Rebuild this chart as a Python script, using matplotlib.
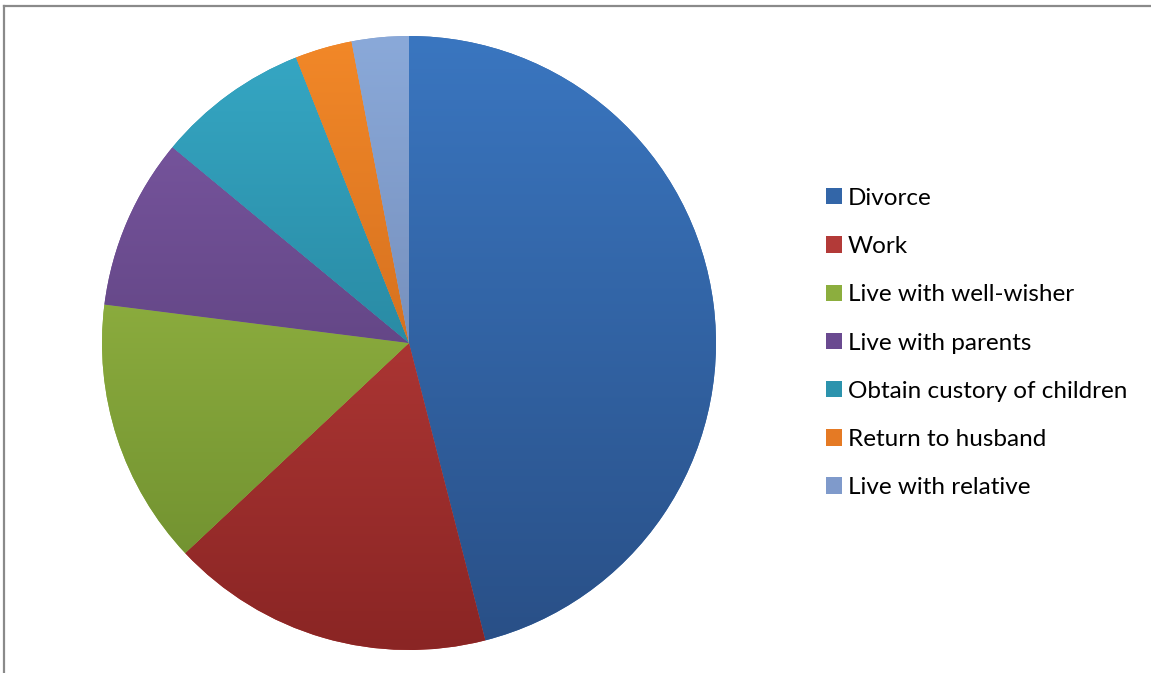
import numpy as np
import matplotlib.pyplot as plt
from matplotlib.colors import to_rgb, LinearSegmentedColormap
from matplotlib.patches import Patch
from matplotlib.lines import Line2D

# Share of responses (%)
labels = ['Divorce', 'Work', 'Live with well-wisher', 'Live with parents',
          'Obtain custory of children', 'Return to husband', 'Live with relative']
values = [46, 17, 14, 9, 8, 3, 3]

# top / bottom shade of each slice (vertical gradient)
top_colors = ['#3a76c0', '#cb4542', '#a4c54b', '#7e5aa6', '#36a8c5', '#f28828', '#8aa9d9']
bottom_colors = ['#294f86', '#8a2524', '#6a8a2c', '#4b3468', '#1d6e84', '#bb5b18', '#6478a2']
legend_colors = ['#3366a8', '#b33a38', '#8cae3e', '#6a4a90', '#2c93ad', '#e57a24', '#7f9acb']

fig = plt.figure(figsize=(11.51, 6.73), dpi=100)

W, H = 1151, 673
cx, cy, r = 409, 343, 307
ax = fig.add_axes([(cx - r) / W, (H - cy - r) / H, 2 * r / W, 2 * r / H])

wedges, _ = ax.pie(values, startangle=90, counterclock=False, radius=1,
                   colors=legend_colors, wedgeprops=dict(linewidth=0))
ax.set_xlim(-1, 1)
ax.set_ylim(-1, 1)
ax.axis('off')

# paint each slice with its own gradient, clipped to the wedge
grad = np.linspace(0, 1, 256).reshape(-1, 1)
for w, c0, c1 in zip(wedges, top_colors, bottom_colors):
    cmap = LinearSegmentedColormap.from_list('g', [to_rgb(c1), to_rgb(c0)])
    im = ax.imshow(grad, cmap=cmap, extent=(-1, 1, -1, 1), origin='lower',
                   aspect='auto', zorder=2, interpolation='bilinear')
    im.set_clip_path(w)
ax.set_xlim(-1, 1)
ax.set_ylim(-1, 1)

handles = [Patch(facecolor=c, edgecolor='none') for c in legend_colors]
fig.legend(handles, labels, loc='center left', bbox_to_anchor=(826 / W, 1 - 343 / H),
           frameon=False, prop=dict(family='Lato', size=17.5),
           handlelength=0.66, handleheight=0.66, handletextpad=0.25,
           labelspacing=1.12, borderaxespad=0, borderpad=0)

# chart area border (top and left edges show)
fig.add_artist(Line2D([4 / W, 1.0], [1 - 6 / H, 1 - 6 / H], color='#8a8a8a', lw=1.6))
fig.add_artist(Line2D([4 / W, 4 / W], [0.0, 1 - 6 / H], color='#8a8a8a', lw=1.6))

fig.savefig('out.png', dpi=100)
